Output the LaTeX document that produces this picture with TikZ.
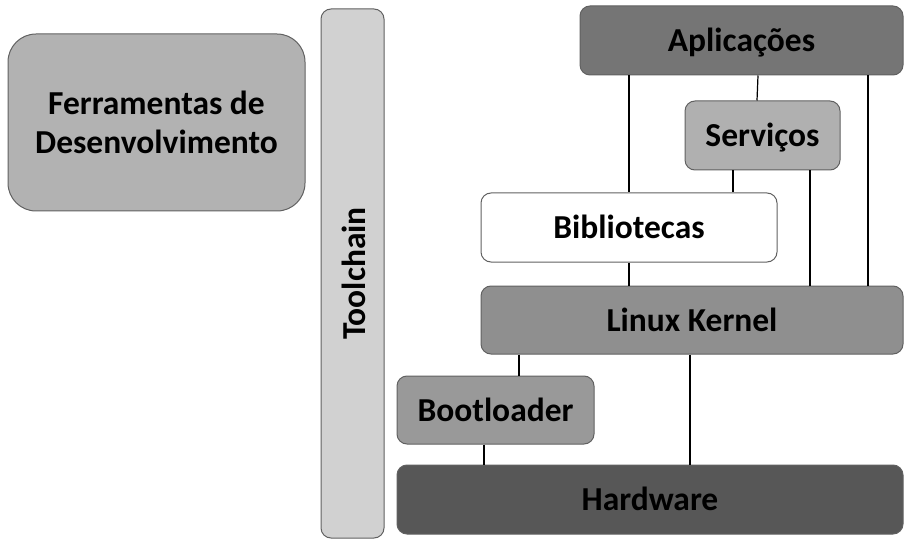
\documentclass[tikz,border=0pt]{standalone}
\usepackage{fontspec}
\setmainfont{Carlito}
\begin{document}
\begin{tikzpicture}[x=1pt,y=-1pt,
  box/.style={draw=black!62, line width=1pt, rounded corners=10pt, inner sep=0pt,
    font=\bfseries\fontsize{33.5}{39}\selectfont, align=center},
  one/.style={text height=22pt, text depth=0pt},
  conn/.style={line width=1.2pt, black}]
\useasboundingbox (0,0) rectangle (918,548);
\node[box, fill=black!30, rounded corners=28pt, minimum width=297pt, minimum height=177pt] (fer) at (156.5,122.5) {Ferramentas de\\Desenvolvimento};
\node[box, fill=black!18, minimum width=63pt, minimum height=529pt] (tc) at (352.5,273.5) {};
\node[font=\bfseries\fontsize{33.5}{39}\selectfont, rotate=90] (tct) at (354,273.5) {Toolchain};
\node[box, one, fill=black!54, minimum width=323pt, minimum height=69pt] (apl) at (741.5,40.5) {Aplicações};
\node[box, one, fill=black!31, minimum width=155pt, minimum height=69pt] (ser) at (762.5,135.5) {Serviços};
\node[box, one, fill=white, minimum width=296pt, minimum height=69pt] (bib) at (629,227.5) {Bibliotecas};
\node[box, one, fill=black!44, minimum width=422pt, minimum height=68pt] (ker) at (692,320) {Linux Kernel};
\node[box, one, fill=black!40, minimum width=197pt, minimum height=68pt] (boot) at (495.5,410) {Bootloader};
\node[box, one, fill=black!66, minimum width=506pt, minimum height=69pt] (hw) at (650,499.5) {Hardware};
\draw[conn] (apl.south -| 629,0) -- (bib.north -| 629,0);
\draw[conn] (apl.south -| 758,0) -- (ser.north -| 757,0);
\draw[conn] (apl.south -| 868,0) -- (ker.north -| 868,0);
\draw[conn] (ser.south -| 733,0) -- (bib.north -| 733,0);
\draw[conn] (ser.south -| 810,0) -- (ker.north -| 810,0);
\draw[conn] (bib.south -| 629,0) -- (ker.north -| 629,0);
\draw[conn] (ker.south -| 519,0) -- (boot.north -| 519,0);
\draw[conn] (ker.south -| 690,0) -- (hw.north -| 690,0);
\draw[conn] (boot.south -| 484,0) -- (hw.north -| 484,0);
\end{tikzpicture}
\end{document}
